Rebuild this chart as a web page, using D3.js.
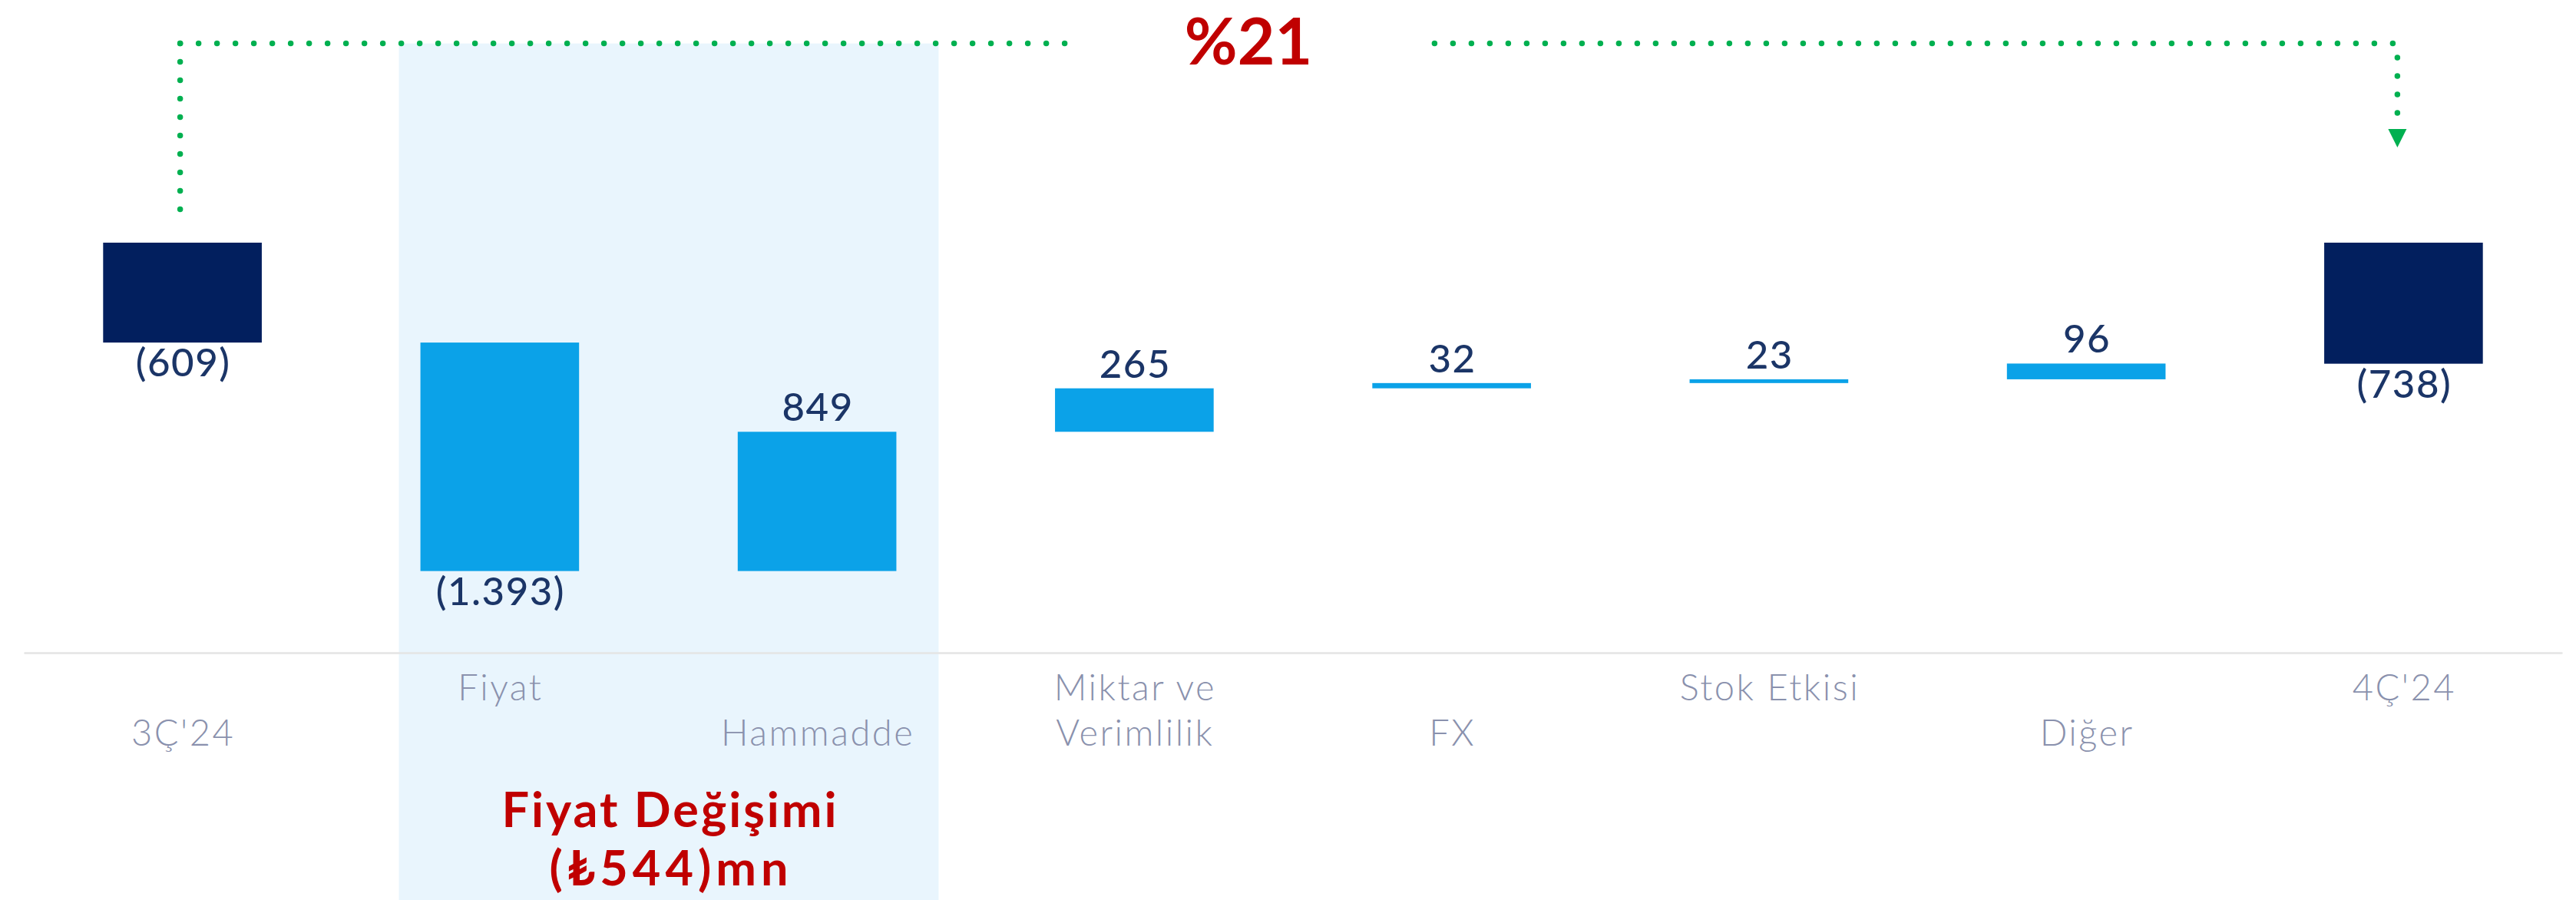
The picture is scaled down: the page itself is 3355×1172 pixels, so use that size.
<!DOCTYPE html>
<html lang="tr">
<head>
<meta charset="utf-8">
<script src="https://cdn.jsdelivr.net/npm/d3@7"></script>
<style>
  body { margin: 0; background: #fff; }
  svg text { font-family: Lato, "Open Sans", sans-serif; }
</style>
</head>
<body>
<svg id="chart"></svg>
<script>
/***********************************************************************/
// Data

var categories = ["3Ç'24", "Fiyat", "Hammadde", "Miktar ve Verimlilik", "FX", "Stok Etkisi", "Diğer", "4Ç'24"];
var values     = [-609, -1393, 849, 265, 32, 23, 96, -738];
var isTotal    = [true, false, false, false, false, false, false, true];
// tick labels, two rows (upper, lower)
var tickLines  = [["", "3Ç'24"], ["Fiyat", ""], ["", "Hammadde"], ["Miktar ve", "Verimlilik"],
                  ["", "FX"], ["Stok Etkisi", ""], ["", "Diğer"], ["4Ç'24", ""]];
var highlighted = ["Fiyat", "Hammadde"];
var yDomain = [0, -2500];

/***********************************************************************/
// Setup

var width = 3355, height = 1172;
var colors = { total: "#021f5e", delta: "#0ba2e8", label: "#1b3567", tick: "#8a91ad",
               shade: "#e9f5fd", green: "#00b050", red: "#c00000", axis: "#e4e4e4" };

var trFormat = d3.formatLocale({ decimal: ",", thousands: ".", grouping: [3], currency: ["₺", ""] }).format(",d");
function fmt(v){ return v < 0 ? "(" + trFormat(-v) + ")" : trFormat(v); }

var svg = d3.select('#chart').attr('width', width).attr('height', height);

var xScale = d3.scaleBand().domain(categories).range([31, 3337]).paddingInner(0.5).paddingOuter(0.25);
var yScale = d3.scaleLinear().domain(yDomain).range([316, 850]);
var bw = xScale.bandwidth();

// waterfall steps
var running = 0;
var steps = values.map((v, i) => {
  var start = isTotal[i] ? 0 : running;
  var end = isTotal[i] ? v : running + v;
  running = end;
  return { cat: categories[i], value: v, start: start, end: end, total: isTotal[i] };
});

/***********************************************************************/
// Shaded band behind price items

var shadeX0 = xScale(highlighted[0]) - 28;
var shadeX1 = xScale(highlighted[highlighted.length - 1]) + bw + 55;
var lineY = 56.6;

svg.append('rect')
  .attr('x', shadeX0).attr('y', lineY)
  .attr('width', shadeX1 - shadeX0).attr('height', height - lineY)
  .attr('fill', colors.shade);

/***********************************************************************/
// Axis

var axis = svg.append('g')
  .attr('transform', 'translate(0,' + yScale(yDomain[1]) + ')')
  .call(d3.axisBottom(xScale).tickSize(0).tickSizeOuter(0));

axis.select('.domain').attr('stroke', colors.axis).attr('stroke-width', 2.5);
axis.selectAll('.tick text')
  .attr('y', null).attr('dy', null)
  .attr('fill', colors.tick)
  .style('font-size', '47px').style('font-weight', 300).style('letter-spacing', '2.5px')
  .text(null)
  .each(function(d, i){
    var t = d3.select(this);
    tickLines[i].forEach((line, row) => {
      if(line) t.append('tspan').attr('x', 1).attr('y', row === 0 ? 62 : 121).text(line);
    });
  });

/***********************************************************************/
// Bars

svg.selectAll('.bar').data(steps).enter().append('rect')
  .attr('class', 'bar')
  .attr('x', d => xScale(d.cat))
  .attr('width', bw)
  .attr('y', d => Math.min(yScale(d.start), yScale(d.end)))
  .attr('height', d => Math.abs(yScale(d.start) - yScale(d.end)))
  .attr('fill', d => d.total ? colors.total : colors.delta);

svg.selectAll('.val').data(steps).enter().append('text')
  .attr('class', 'val')
  .attr('x', d => xScale(d.cat) + bw / 2 + 1)
  .attr('y', d => d.value >= 0
    ? Math.min(yScale(d.start), yScale(d.end)) - 14
    : Math.max(yScale(d.start), yScale(d.end)) + 44)
  .attr('text-anchor', 'middle')
  .attr('fill', colors.label)
  .style('font-size', '51px').style('font-weight', 500).style('letter-spacing', '1.5px')
  .text(d => fmt(d.value));

/***********************************************************************/
// Growth connector

var xFirst = xScale(categories[0]) + bw / 2 - 3;
var xLast = xScale(categories[categories.length - 1]) + bw / 2 - 8;
var gapCenter = 1626, gapHalf = 238;

var dotted = [
  [[xFirst, lineY], [xFirst, 273]],
  [[xFirst, lineY], [gapCenter - gapHalf, lineY]],
  [[xLast - 6, lineY], [gapCenter + gapHalf, lineY]],
  [[xLast, 75], [xLast, 148]]
];
svg.selectAll('.dots').data(dotted).enter().append('path')
  .attr('d', d3.line())
  .attr('fill', 'none')
  .attr('stroke', colors.green)
  .attr('stroke-width', 7.5)
  .attr('stroke-linecap', 'round')
  .attr('stroke-dasharray', '0 24');

svg.append('path')
  .attr('d', d3.line()([[xLast - 12, 168], [xLast + 12, 168], [xLast, 192]]) + 'Z')
  .attr('fill', colors.green);

var growth = Math.round((values[values.length - 1] / values[0] - 1) * 100);
svg.append('text')
  .attr('x', gapCenter).attr('y', 84)
  .attr('text-anchor', 'middle')
  .attr('fill', colors.red)
  .style('font-size', '84px').style('font-weight', 700)
  .text('%' + growth);

/***********************************************************************/
// Price change note

var priceChange = values[categories.indexOf(highlighted[0])] + values[categories.indexOf(highlighted[1])];
var noteX = (shadeX0 + shadeX1) / 2;
var note = svg.append('text')
  .attr('text-anchor', 'middle')
  .attr('fill', colors.red)
  .style('font-size', '63px').style('font-weight', 700);
note.append('tspan').attr('x', noteX + 2).attr('y', 1077).style('letter-spacing', '3px').text('Fiyat Değişimi');
note.append('tspan').attr('x', noteX + 3).attr('y', 1153).style('letter-spacing', '6px').text('(₺' + trFormat(-priceChange) + ')mn');
</script>
</body>
</html>
